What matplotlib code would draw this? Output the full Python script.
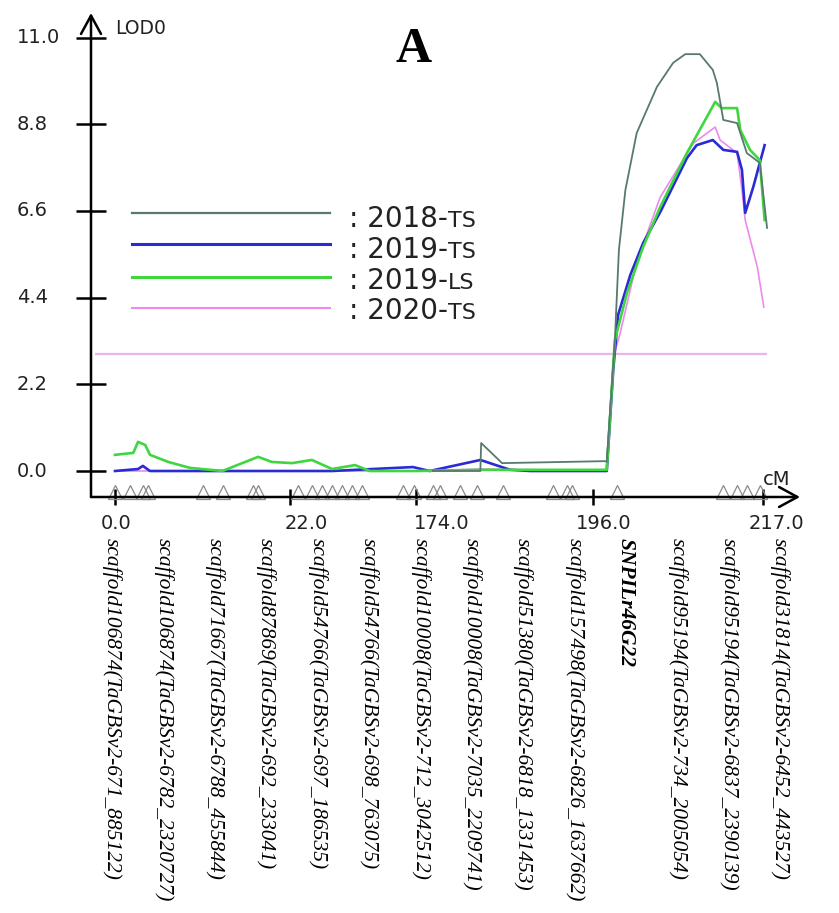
"""LOD profile of the leaf-rust QTL around SNPILr46G22 (panel A).

Four environments scanned along one linkage group drawn on a broken cM axis:
the 0-22, 22-174, 174-196 and 196-217 cM stretches each get their own share
of the axis, the way the mapping software laid the figure out.
"""
import numpy as np
import matplotlib

matplotlib.use("Agg")
import matplotlib.pyplot as plt
from matplotlib.lines import Line2D
from matplotlib.transforms import blended_transform_factory

# --- data ---------------------------------------------------------------
TICK_CM = [0.0, 22.0, 174.0, 196.0, 217.0]
TICK_LABELS = ["0.0", "22.0", "174.0", "196.0", "217.0"]
LOD_TICKS = [0.0, 2.2, 4.4, 6.6, 8.8, 11.0]
THRESHOLD = 2.97

LEGEND_YEARS = ["2018", "2019", "2019", "2020"]
LEGEND_SEASONS = ["TS", "TS", "LS", "TS"]

cm_2018_ts = [176.1, 182.0, 182.1, 184.7, 197.5, 197.7, 198.2, 198.7, 199.2,
              200.0, 201.4, 203.9, 205.9, 207.4, 209.2, 210.8, 211.3, 212.1,
              213.8, 215.0, 216.6, 217.5]
lod_2018_ts = [0.0, 0.0, 0.71, 0.20, 0.25, 0.23, 1.80, 3.32, 5.61,
               7.13, 8.58, 9.75, 10.36, 10.58, 10.58, 10.18, 9.85, 8.91,
               8.83, 8.07, 7.82, 6.17]

cm_2019_ts = [0.0, 2.9, 3.5, 4.4, 22.0, 72.7, 170.3, 175.7, 182.0, 185.7,
              188.2, 197.7, 198.5, 199.1, 200.6, 202.2, 204.3, 207.6, 208.8,
              210.8, 212.1, 213.8, 214.4, 214.8, 215.8, 217.2]
lod_2019_ts = [0.0, 0.05, 0.13, 0.0, 0.0, 0.0, 0.10, 0.0, 0.28, 0.03,
               0.0, 0.0, 2.56, 3.96, 4.97, 5.79, 6.57, 7.94, 8.27,
               8.40, 8.15, 8.10, 7.64, 6.55, 7.21, 8.27]

cm_2019_ls = [0.0, 2.3, 2.9, 3.8, 4.4, 6.7, 9.4, 13.5, 18.0, 19.7, 24.4,
              48.5, 72.7, 100.4, 118.5, 174.0, 182.0, 197.7, 198.7, 200.2,
              202.2, 204.3, 207.6, 211.1, 211.9, 213.8, 214.2, 215.4, 216.6,
              217.2]
lod_2019_ls = [0.41, 0.46, 0.74, 0.66, 0.41, 0.23, 0.08, 0.0, 0.36, 0.23, 0.20,
               0.28, 0.05, 0.15, 0.0, 0.0, 0.03, 0.03, 3.32, 4.52,
               5.69, 6.70, 8.07, 9.37, 9.21, 9.21, 8.65, 8.15, 7.89,
               6.37]

cm_2020_ts = [0.0, 174.0, 182.0, 197.7, 198.6, 199.3, 201.4, 204.3, 208.4,
              211.1, 211.7, 213.8, 214.4, 214.8, 216.3, 217.1]
lod_2020_ts = [0.0, 0.0, 0.05, 0.0, 2.97, 3.45, 5.30, 6.95, 8.32,
               8.73, 8.40, 8.07, 7.13, 6.37, 5.18, 4.16]

MARKER_CM = [0.0, 1.9, 3.5, 4.2, 11.1, 13.6, 17.3, 18.0, 31.6, 48.5, 60.6,
             72.7, 84.7, 96.8, 108.8, 158.3, 171.5, 176.1, 177.0, 179.5,
             181.6, 184.8, 191.0, 192.8, 193.4, 199.0, 212.1, 213.8, 215.0,
             216.6]

MARKER_NAMES = [
    "scaffold106874(TaGBSv2-671_885122)",
    "scaffold106874(TaGBSv2-6782_2320727)",
    "scaffold71667(TaGBSv2-6788_455844)",
    "scaffold87869(TaGBSv2-692_233041)",
    "scaffold54766(TaGBSv2-697_186535)",
    "scaffold54766(TaGBSv2-698_763075)",
    "scaffold10008(TaGBSv2-712_3042512)",
    "scaffold10008(TaGBSv2-7035_2209741)",
    "scaffold51380(TaGBSv2-6818_1331453)",
    "scaffold157498(TaGBSv2-6826_1637662)",
    "SNPILr46G22",
    "scaffold95194(TaGBSv2-734_2005054)",
    "scaffold95194(TaGBSv2-6837_2390139)",
    "scaffold31814(TaGBSv2-6452_443527)",
]
HIGHLIGHT = "SNPILr46G22"

# --- layout (pixels of the 839x913 figure) ------------------------------
W, H = 839, 913
TICK_PX = [115, 290, 416, 593, 763]      # where each cM tick sits on the axis
AX_LEFT, AX_RIGHT, AX_TOP, AX_BOTTOM = 91, 800, 13, 497
XLABEL_DX = [1, 16, 26, 11, 13]         # x tick label nudges (px)
LABEL_X = np.linspace(112, 780, len(MARKER_NAMES))

COLORS = ["#587a6c", "#2b2bd6", "#3fd63f", "#ee8aee"]
WIDTHS = [1.3, 1.9, 1.9, 1.2]
THRESH_COLOR = "#e9b6ec"


def _anchors():
    """Broken-axis anchors, extended linearly past both ends."""
    cm = np.asarray(TICK_CM, float)
    px = np.asarray(TICK_PX, float)
    lo = (px[1] - px[0]) / (cm[1] - cm[0])
    hi = (px[-1] - px[-2]) / (cm[-1] - cm[-2])
    cm_ext = np.r_[cm[0] - 1000.0, cm, cm[-1] + 1000.0]
    px_ext = np.r_[px[0] - 1000.0 * lo, px, px[-1] + 1000.0 * hi]
    return cm_ext, px_ext


CM_EXT, PX_EXT = _anchors()


def cm_to_px(x):
    return np.interp(x, CM_EXT, PX_EXT)


def px_to_cm(p):
    return np.interp(p, PX_EXT, CM_EXT)


def fx(px):
    return px / W


def fy(py):
    return 1.0 - py / H


def main() -> None:
    plt.rcParams["font.family"] = ["DejaVu Sans"]
    fig = plt.figure(figsize=(W / 100, H / 100), dpi=100)
    ax = fig.add_axes([fx(AX_LEFT), fy(AX_BOTTOM),
                       (AX_RIGHT - AX_LEFT) / W, (AX_BOTTOM - AX_TOP) / H])
    ax.set_xscale("function", functions=(cm_to_px, px_to_cm))
    ax.set_xlim(px_to_cm(AX_LEFT), px_to_cm(AX_RIGHT))
    # 0 LOD sits at y=471 px, 39.4 px per LOD unit
    ax.set_ylim(-(AX_BOTTOM - 471) / 39.4, (471 - AX_TOP) / 39.4)
    for sp in ax.spines.values():
        sp.set_visible(False)
    ax.patch.set_alpha(0)

    # axes drawn as arrows
    arrow = dict(arrowstyle="->,head_length=0.55,head_width=0.3", lw=1.8,
                 color="black", shrinkA=0, shrinkB=0, mutation_scale=24)
    ax.annotate("", xy=(0, 1), xytext=(0, 0), xycoords="axes fraction",
                arrowprops=arrow, annotation_clip=False)
    ax.annotate("", xy=(1, 0), xytext=(0, 0), xycoords="axes fraction",
                arrowprops=arrow, annotation_clip=False)

    ax.set_yticks(LOD_TICKS)
    ax.set_xticks(TICK_CM)
    ax.xaxis.set_minor_locator(matplotlib.ticker.NullLocator())
    ax.tick_params(axis="y", direction="inout", length=21, width=1.8,
                   labelleft=False)
    ax.tick_params(axis="x", direction="inout", length=11, width=1.8,
                   labelbottom=False)

    ytrans = blended_transform_factory(fig.transFigure, ax.transData)
    for v in LOD_TICKS:
        ax.text(fx(17), v, f"{v:.1f}", transform=ytrans, ha="left",
                va="center", fontsize=14, color="#222222")
    xtrans = blended_transform_factory(ax.transData, fig.transFigure)
    for cm, lab, dx in zip(TICK_CM, TICK_LABELS, XLABEL_DX):
        ax.annotate(lab, xy=(cm, fy(523)), xycoords=xtrans,
                    xytext=(dx * 0.72, 0), textcoords="offset points",
                    ha="center", va="center", fontsize=14, color="#222222",
                    annotation_clip=False)

    fig.text(fx(115), fy(34), "LOD0", fontsize=13.5, ha="left",
             va="baseline", color="#222222")
    fig.text(fx(763), fy(485), "cM", fontsize=14, ha="left",
             va="baseline", color="#222222")
    fig.text(fx(414), fy(62), "A", fontsize=36, fontweight="bold",
             family="Liberation Serif", ha="center", va="baseline")

    # significance threshold and marker positions
    ax.hlines(THRESHOLD, px_to_cm(95), px_to_cm(767), color=THRESH_COLOR,
              lw=1.6, zorder=2)
    ax.plot(MARKER_CM, np.full(len(MARKER_CM), -0.53), ls="none",
            marker="^", ms=9.5, mfc="none", mec="#8a8a8a", mew=0.9,
            clip_on=False, zorder=2)

    curves = [(cm_2018_ts, lod_2018_ts), (cm_2019_ts, lod_2019_ts),
              (cm_2019_ls, lod_2019_ls), (cm_2020_ts, lod_2020_ts)]
    order = [6, 4, 5, 3]
    for (x, y), c, lw, z in zip(curves, COLORS, WIDTHS, order):
        ax.plot(x, y, color=c, lw=lw, zorder=z, clip_on=False)

    # hand-laid legend
    line_y = [213, 244, 277, 308]
    base_y = [227, 258, 289, 319]
    for i, (yr, ss) in enumerate(zip(LEGEND_YEARS, LEGEND_SEASONS)):
        fig.add_artist(Line2D([fx(132), fx(330)], [fy(line_y[i])] * 2,
                              color=COLORS[i], lw=WIDTHS[i] + 0.3))
        t = fig.text(fx(349), fy(base_y[i]), f": {yr}-", fontsize=20,
                     ha="left", va="baseline", color="#222222")
        ax.annotate(ss, xy=(1, fy(base_y[i])), xycoords=(t, "figure fraction"),
                    ha="left", va="baseline", fontsize=16, color="#222222",
                    annotation_clip=False)

    # marker names under the axis
    for x, name in zip(LABEL_X, MARKER_NAMES):
        bold = name == HIGHLIGHT
        fig.text(fx(x), fy(538), name, rotation=-90, ha="center", va="top",
                 family="Liberation Serif", style="italic",
                 fontweight="bold" if bold else "normal", fontsize=15.5)

    fig.savefig("out.png", dpi=100)


if __name__ == "__main__":
    main()
